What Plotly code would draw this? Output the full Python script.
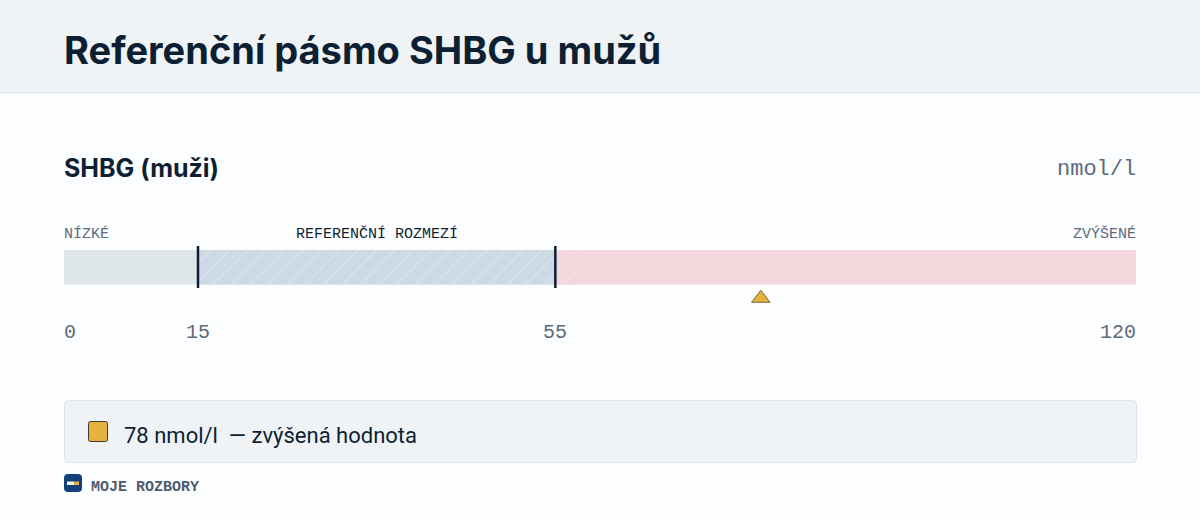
import plotly.graph_objects as go

# --- data ---
title_text = "Referenční pásmo SHBG u mužů"
measure_name = "SHBG (muži)"
unit = "nmol/l"
band_names = ["Nízké", "Referenční rozmezí", "Zvýšené"]
band_starts = [0, 15, 55]
band_ends = [15, 55, 120]
band_labels = ["NÍZKÉ", "REFERENČNÍ ROZMEZÍ", "ZVÝŠENÉ"]
tick_values = [0, 15, 55, 120]
thresholds = [15, 55]
patient_value = [78]
hatch_ref = [15, 55]
hatch_spill = [55, 58]
summary_text = "78 nmol/l  — zvýšená hodnota"
brand_text = "MOJE ROZBORY"

W, H = 1200, 520
MONO = "'Liberation Mono', 'DejaVu Sans Mono', monospace"
SANS = "Inter, 'Noto Sans', sans-serif"
BODY = "Roboto, 'Noto Sans', sans-serif"
INK = "#0d1f33"
SLATE = "#5d6b7a"
LOW, REF, HIGH = "#dfe6ea", "#cddae6", "#f2d8dc"


def px(v):
    return v / W


def py(v):
    return 1 - v / H


def rrect(x0, y0, x1, y1, r):
    a, b, c, d = px(x0), py(y0), px(x1), py(y1)
    rx, ry = r / W, r / H
    return (f"M {a + rx} {b} L {c - rx} {b} Q {c} {b} {c} {b - ry} L {c} {d + ry} "
            f"Q {c} {d} {c - rx} {d} L {a + rx} {d} Q {a} {d} {a} {d + ry} "
            f"L {a} {b - ry} Q {a} {b} {a + rx} {b} Z")


def box(x0, y0, x1, y1, fill, line=None, lw=0):
    return dict(type="rect", xref="paper", yref="paper", layer="below",
                x0=px(x0), x1=px(x1), y0=py(y0), y1=py(y1),
                fillcolor=fill, line=dict(color=line or fill, width=lw))


def label(text, x, y, size, color, font=MONO, anchor="left", weight=400, xref="paper"):
    return dict(text=text, x=x, xref=xref, y=py(y), yref="paper", xanchor=anchor,
                yanchor="middle", showarrow=False, borderpad=0, borderwidth=0,
                font=dict(family=font, size=size, color=color, weight=weight))


fig = go.Figure()

widths = [e - s for s, e in zip(band_starts, band_ends)]

fig.add_trace(go.Bar(
    y=[0, 0, 0], x=widths, base=band_starts, orientation="h", width=1,
    name="Pásma", text=band_names, textposition="none", hoverinfo="text",
    marker=dict(color=[LOW, REF, HIGH], line=dict(width=0)),
))

fig.add_trace(go.Bar(
    y=[0], x=[hatch_ref[1] - hatch_ref[0]], base=[hatch_ref[0]], orientation="h", width=1,
    name="Šrafování", hoverinfo="skip",
    marker=dict(color=REF, line=dict(width=0),
                pattern=dict(shape="/", fgcolor="#e0e8f0", size=13, solidity=0.12, fillmode="overlay")),
))

fig.add_trace(go.Bar(
    y=[0], x=[hatch_spill[1] - hatch_spill[0]], base=[hatch_spill[0]], orientation="h", width=1,
    name="Přesah", hoverinfo="skip",
    marker=dict(color=HIGH, line=dict(width=0),
                pattern=dict(shape="/", fgcolor="#f7e6ea", size=13, solidity=0.12, fillmode="overlay")),
))

fig.add_trace(go.Scatter(
    x=patient_value, y=[-0.9], mode="markers", cliponaxis=False,
    name="Hodnota", hoverinfo="x",
    marker=dict(symbol="triangle-up", size=16, color="#e5b23c",
                line=dict(color="#7a6a3a", width=1)),
))

shapes = [
    box(0, 0, W, 92, "#eff3f6"),
    box(0, 92, W, 93, "#d8dee4"),
    dict(type="path", xref="paper", yref="paper", layer="below",
         path=rrect(64.5, 400.5, 1136.5, 462.5, 4), fillcolor="#eff3f6",
         line=dict(color="#dde3e8", width=1)),
    dict(type="path", xref="paper", yref="paper", layer="below",
         path=rrect(88.5, 421.5, 107.5, 441.5, 2), fillcolor="#e5b23c",
         line=dict(color="#3a3a36", width=1)),
    dict(type="path", xref="paper", yref="paper", layer="below",
         path=rrect(64, 474, 82, 492, 4), fillcolor="#12407a", line=dict(width=0)),
    box(67, 481.5, 74, 485, "#f4f6f8"),
    box(74, 481.5, 79, 485, "#e5b23c"),
]
for t in thresholds:
    shapes.append(dict(type="line", xref="x", yref="paper", x0=t, x1=t,
                       y0=py(288), y1=py(246), layer="above",
                       line=dict(color=INK, width=2.5)))

annotations = [
    label(title_text, px(64), 50, 38, INK, SANS, weight=700),
    label(measure_name, px(64), 168, 25, INK, SANS, weight=700),
    label(unit, px(1136), 170, 22, SLATE, anchor="right"),
    label(band_labels[0], band_starts[0], 234, 15, SLATE, xref="x"),
    label(band_labels[1], (band_starts[1] + band_ends[1]) / 2, 234, 15, INK, anchor="center", xref="x"),
    label(band_labels[2], band_ends[2], 234, 15, SLATE, anchor="right", xref="x"),
    label(summary_text, px(124), 435, 22, INK, BODY),
    label(brand_text, px(91), 487, 15, "#4d5c6d", weight=700),
]
for i, t in enumerate(tick_values):
    anchor = "left" if i == 0 else "right" if i == len(tick_values) - 1 else "center"
    annotations.append(label(str(t), t, 332, 20, SLATE, anchor=anchor, xref="x"))

fig.update_layout(
    width=W, height=H,
    margin=dict(l=0, r=0, t=0, b=0),
    autosize=False,
    paper_bgcolor="#fcfdfe", plot_bgcolor="rgba(0,0,0,0)",
    showlegend=False, barmode="overlay",
    xaxis=dict(domain=[px(64), px(1136)], range=[0, 120], visible=False, fixedrange=True),
    yaxis=dict(domain=[py(308), py(250)], range=[0.5 - 58 / 34.5, 0.5], visible=False, fixedrange=True),
    shapes=shapes, annotations=annotations,
)

fig.write_html("out.html", config=dict(displayModeBar=False),
               post_script="document.body.style.margin='0';document.body.style.background='#fcfdfe';")
